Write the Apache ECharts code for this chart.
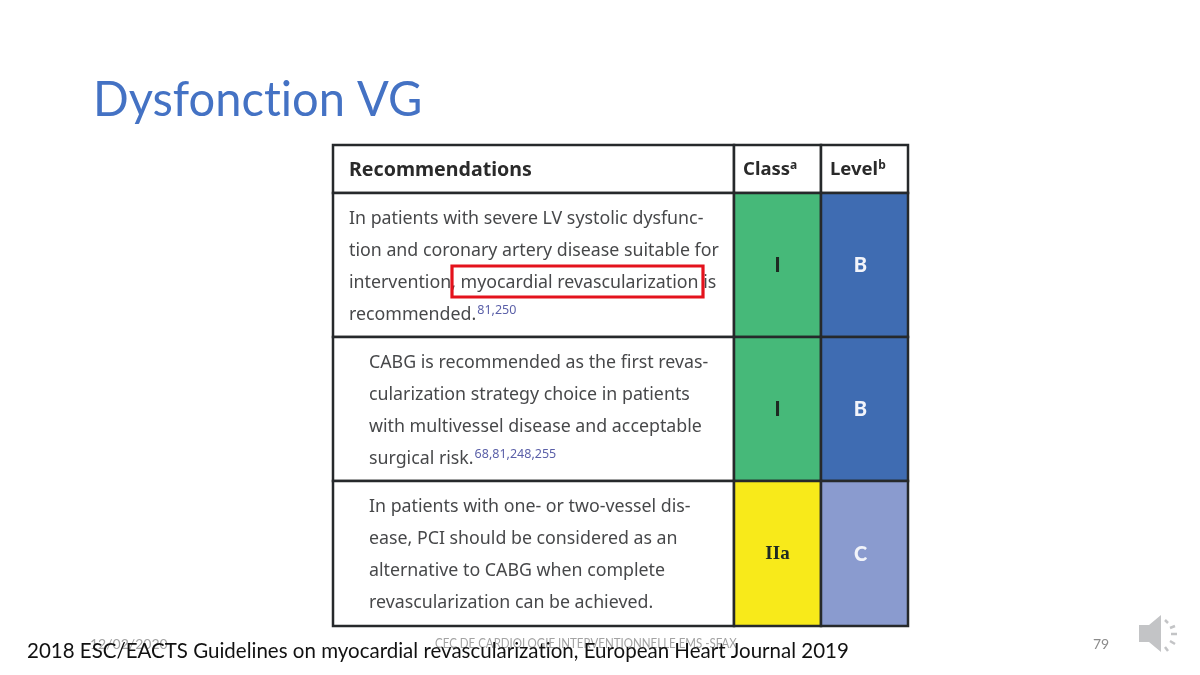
<!DOCTYPE html>
<html>
<head>
<meta charset="utf-8">
<style>
  html, body { margin: 0; padding: 0; background: #fff; }
  #chart { width: 1200px; height: 675px; }
</style>
<script src="https://cdn.jsdelivr.net/npm/echarts@6/dist/echarts.min.js"></script>
</head>
<body>
<div id="chart"></div>
<script>
const slideTitle = 'Dysfonction VG';
const sourceNote = '2018 ESC/EACTS Guidelines on myocardial revascularization, European Heart Journal 2019';
const footerDate = '12/02/2020';
const footerCenter = 'CEC DE CARDIOLOGIE INTERVENTIONNELLE EMS -SFAX';
const pageNumber = '79';

const headers = ['Recommendations', 'Class', 'Level'];
const headerSups = ['', 'a', 'b'];
const recoLines = [
  ['In patients with severe LV systolic dysfunc-', 'tion and coronary artery disease suitable for', 'intervention, myocardial revascularization is', 'recommended.'],
  ['CABG is recommended as the first revas-', 'cularization strategy choice in patients', 'with multivessel disease and acceptable', 'surgical risk.'],
  ['In patients with one- or two-vessel dis-', 'ease, PCI should be considered as an', 'alternative to CABG when complete', 'revascularization can be achieved.']
];
const recoRefs = ['81,250', '68,81,248,255', ''];
const classLabels = ['I', 'I', 'IIa'];
const levelLabels = ['B', 'B', 'C'];
const classColors = ['#46b979', '#46b979', '#f8ea1a'];
const levelColors = ['#3f6cb2', '#3f6cb2', '#8a9bcf'];

// table layout, in axis units
const colEdges = [0, 401, 488, 575];
const rowEdges = [0, 48, 192, 336, 481];
const rowIndent = [16, 36, 36];
const lineStep = 32;
const boxX = [119, 370];
const boxY = [121, 152];

const LINE = '#26292b';
const BODY = '"Noto Sans"';
const cellData = [];
headers.forEach((h, c) => cellData.push({ value: [c, 0], kind: 'head', text: h, sup: headerSups[c] }));
recoLines.forEach((lines, r) => {
  cellData.push({ value: [0, r + 1], kind: 'reco', lines, ref: recoRefs[r], indent: rowIndent[r] });
  cellData.push({ value: [1, r + 1], kind: 'grade', text: classLabels[r], fill: classColors[r], serif: classLabels[r] === 'IIa', color: '#1d2a22' });
  cellData.push({ value: [2, r + 1], kind: 'grade', text: levelLabels[r], fill: levelColors[r], color: '#f2f4fa' });
});

function renderCell(params, api) {
  const d = cellData[params.dataIndex];
  const c = api.value(0), r = api.value(1);
  const p0 = api.coord([colEdges[c], rowEdges[r]]);
  const p1 = api.coord([colEdges[c + 1], rowEdges[r + 1]]);
  const x = p0[0], y = p0[1], w = p1[0] - p0[0], h = p1[1] - p0[1];
  const children = [{
    type: 'rect',
    shape: { x, y, width: w, height: h },
    style: { fill: d.fill || '#fff', stroke: LINE, lineWidth: 2.5 }
  }];
  if (d.kind === 'head') {
    const tx = c === 0 ? x + 16 : x + 9;
    children.push({
      type: 'text',
      style: {
        x: tx, y: y + h / 2 + 1, verticalAlign: 'middle',
        text: d.sup ? '{t|' + d.text + '}{s|' + d.sup + '}' : '{t|' + d.text + '}',
        rich: {
          t: { font: 'bold ' + (c === 0 ? 19.6 : 18.5) + 'px ' + BODY, fill: '#2a2a2a' },
          s: { font: 'bold 12px ' + BODY, fill: '#2a2a2a', verticalAlign: 'top', padding: [0, 0, 8, 0] }
        }
      }
    });
  } else if (d.kind === 'reco') {
    d.lines.forEach((line, i) => {
      const last = i === d.lines.length - 1 && d.ref;
      children.push({
        type: 'text',
        style: {
          x: x + d.indent, y: y + 26 + i * lineStep, verticalAlign: 'middle',
          text: last ? '{t|' + line + '}{s|' + d.ref + '}' : '{t|' + line + '}',
          rich: {
            t: { font: '17.8px ' + BODY, fill: '#47484a' },
            s: { font: '12.5px ' + BODY, fill: '#5a5fa8', verticalAlign: 'top', padding: [0, 0, 10, 1] }
          }
        }
      });
    });
  } else {
    const off = d.text === 'I' || d.serif ? 0 : -4;
    children.push({
      type: 'text',
      style: {
        x: x + w / 2 + off, y: y + h / 2 + 1, align: 'center', verticalAlign: 'middle',
        text: d.text, fill: d.color,
        font: d.serif ? 'bold 19px "Liberation Serif"' : '900 20px Lato'
      }
    });
  }
  return { type: 'group', children };
}

function renderBox(params, api) {
  const p0 = api.coord([api.value(0), api.value(1)]);
  const p1 = api.coord([api.value(2), api.value(3)]);
  return {
    type: 'rect',
    shape: { x: p0[0], y: p0[1], width: p1[0] - p0[0], height: p1[1] - p0[1] },
    style: { fill: 'none', stroke: '#e4121c', lineWidth: 3.2 }
  };
}

// splits the string at "ti" so Lato does not draw its ligature there
function plainTi(s, style) {
  return '{' + style + '|' + s.replace(/ti/g, 't}{' + style + '|i') + '}';
}

const chart = echarts.init(document.getElementById('chart'));
const hiddenAxis = { type: 'value', show: false };
const iconStroke = { stroke: '#c3c4c6', lineWidth: 2.5, fill: 'none' };
chart.setOption({
  backgroundColor: '#fff',
  animation: false,
  grid: { left: 333, top: 145, width: 575, height: 481 },
  xAxis: Object.assign({}, hiddenAxis, { min: 0, max: 575 }),
  yAxis: Object.assign({}, hiddenAxis, { min: 0, max: 481, inverse: true }),
  series: [
    { type: 'custom', coordinateSystem: 'cartesian2d', clip: false, renderItem: renderCell, data: cellData, silent: true },
    { type: 'custom', coordinateSystem: 'cartesian2d', clip: false, renderItem: renderBox, data: [[boxX[0], boxY[0], boxX[1], boxY[1]]], silent: true, z: 5 }
  ],
  graphic: [
    { type: 'text', x: 93, y: 100, scaleX: 0.96, style: { text: plainTi(slideTitle, 'a'), rich: { a: { font: '49px Lato', fill: '#4472c4' } }, verticalAlign: 'middle' } },
    { type: 'text', x: 90, y: 644, style: { text: footerDate, font: '14px Lato', fill: '#a3a3a3', verticalAlign: 'middle' } },
    { type: 'text', x: 435, y: 644, scaleX: 0.853, style: { text: footerCenter, font: '13.5px Lato', fill: '#a3a3a3', verticalAlign: 'middle' } },
    { type: 'text', x: 1093, y: 644, style: { text: pageNumber, font: '14px Lato', fill: '#8b8b8b', verticalAlign: 'middle' } },
    { type: 'text', x: 27, y: 651, scaleX: 0.932, z: 10, style: { text: plainTi(sourceNote, 'a'), rich: { a: { font: '22px Lato', fill: '#111' } }, verticalAlign: 'middle' } },
    // speaker icon
    { type: 'polygon', shape: { points: [[1139, 625], [1149, 625], [1161, 615], [1161, 652], [1149, 642], [1139, 642]] }, style: { fill: '#c3c4c6' } },
    { type: 'polyline', shape: { points: [[1165, 620], [1168, 623]] }, style: iconStroke },
    { type: 'polyline', shape: { points: [[1170, 628], [1175, 626]] }, style: iconStroke },
    { type: 'polyline', shape: { points: [[1171, 634], [1177, 634]] }, style: iconStroke },
    { type: 'polyline', shape: { points: [[1170, 641], [1175, 644]] }, style: iconStroke },
    { type: 'polyline', shape: { points: [[1165, 647], [1168, 651]] }, style: iconStroke }
  ]
});
</script>
</body>
</html>
